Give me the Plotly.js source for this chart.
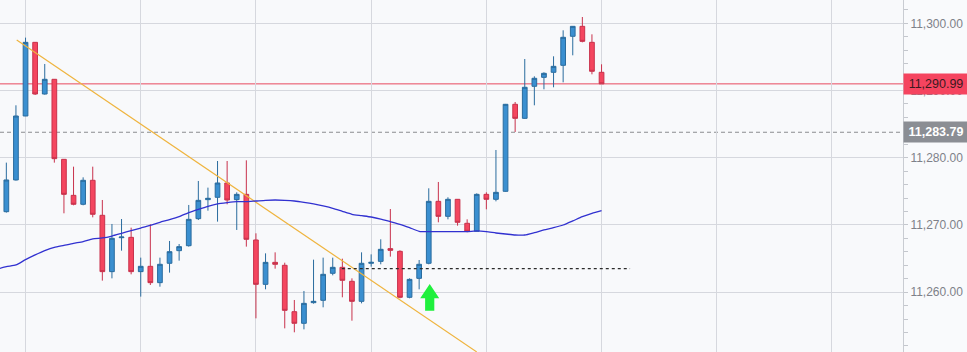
<!DOCTYPE html>
<html>
<head>
<meta charset="utf-8">
<script src="https://cdn.plot.ly/plotly-3.0.1.min.js"></script>
<style>
  html, body { margin: 0; padding: 0; background: #f9fafc; }
  #chart { width: 967px; height: 352px; }
</style>
</head>
<body>
<div id="chart"></div>
<script>
// ---- Data ----
const openVals = [
  11271.97, 11276.69, 11286.21, 11297.17, 11289.48, 11291.67, 11279.76, 11274.40, 11273.07, 11276.64,
  11271.43, 11263.05, 11268.10, 11268.15, 11263.05, 11263.84, 11261.41, 11264.29, 11266.17, 11266.91,
  11270.93, 11273.76, 11274.11, 11276.24, 11273.76, 11274.55, 11267.76, 11261.16, 11264.43, 11263.99,
  11257.09, 11255.36, 11258.43, 11258.78, 11262.80, 11263.69, 11261.61, 11258.63, 11264.29, 11264.58,
  11266.47, 11266.07, 11259.23, 11262.05, 11264.29, 11273.51, 11271.28, 11273.81, 11270.24, 11269.05,
  11274.55, 11273.81, 11275.00, 11287.95, 11285.86, 11290.63, 11291.96, 11292.71, 11293.75, 11298.07,
  11299.55, 11297.17, 11292.71
];
const highVals = [
  11279.27, 11287.80, 11297.87, 11297.20, 11293.95, 11291.70, 11279.80, 11278.67, 11277.08, 11278.67,
  11273.71, 11270.14, 11270.88, 11269.59, 11265.13, 11270.09, 11265.13, 11267.61, 11267.16, 11272.97,
  11276.54, 11275.55, 11279.51, 11279.51, 11274.85, 11279.61, 11268.75, 11265.77, 11265.92, 11264.38,
  11258.83, 11260.17, 11264.83, 11265.13, 11265.13, 11264.98, 11262.05, 11265.92, 11265.62, 11267.86,
  11272.37, 11266.22, 11262.05, 11264.78, 11275.45, 11276.39, 11274.11, 11273.85, 11270.83, 11274.70,
  11274.85, 11281.15, 11288.00, 11288.29, 11294.69, 11292.11, 11292.71, 11295.09, 11298.96, 11299.60,
  11300.94, 11298.36, 11293.90
];
const lowVals = [
  11271.83, 11276.60, 11286.20, 11289.34, 11289.39, 11279.27, 11271.73, 11272.92, 11272.92, 11271.13,
  11261.71, 11262.05, 11266.17, 11262.65, 11259.33, 11261.06, 11260.81, 11262.90, 11264.68, 11266.77,
  11270.73, 11272.12, 11270.49, 11273.07, 11269.25, 11266.77, 11256.10, 11260.42, 11263.49, 11254.61,
  11254.02, 11254.46, 11258.28, 11257.74, 11262.50, 11259.23, 11255.75, 11258.33, 11263.79, 11264.14,
  11265.28, 11259.08, 11259.08, 11260.42, 11264.14, 11270.39, 11270.83, 11269.89, 11268.90, 11269.00,
  11272.32, 11273.51, 11274.95, 11283.83, 11285.80, 11287.80, 11290.18, 11290.48, 11291.22, 11295.24,
  11297.17, 11292.41, 11290.95
];
const closeVals = [
  11276.69, 11286.21, 11297.17, 11289.48, 11291.67, 11279.86, 11274.55, 11273.07, 11276.64, 11271.58,
  11263.05, 11268.01, 11268.20, 11263.05, 11263.84, 11261.41, 11264.14, 11266.02, 11266.77, 11270.83,
  11273.66, 11273.96, 11276.24, 11273.71, 11274.55, 11267.86, 11261.16, 11264.43, 11264.14, 11257.29,
  11255.36, 11258.33, 11258.63, 11262.65, 11263.69, 11261.76, 11258.63, 11264.29, 11264.43, 11266.37,
  11266.22, 11259.23, 11261.90, 11264.14, 11273.51, 11271.28, 11273.81, 11270.39, 11269.05, 11274.55,
  11273.81, 11274.85, 11287.95, 11285.86, 11290.48, 11291.82, 11292.56, 11293.60, 11297.92, 11299.55,
  11297.32, 11292.86, 11290.99
];
// Moving average, one value per bar starting one bar before the first candle
const maStartIndex = -1;
const maVals = [
  11263.40,
  11263.79, 11264.04, 11264.83, 11265.53, 11266.17, 11266.67, 11266.96, 11267.26, 11267.51, 11267.91,
  11268.06, 11268.35, 11268.75, 11269.15, 11269.54, 11269.94, 11270.39, 11270.78, 11271.23, 11271.83,
  11272.32, 11272.77, 11273.12, 11273.31, 11273.46, 11273.46, 11273.56, 11273.66, 11273.71, 11273.66,
  11273.56, 11273.36, 11273.12, 11272.82, 11272.47, 11272.02, 11271.58, 11271.38, 11271.18, 11270.88,
  11270.49, 11270.09, 11269.59, 11269.05, 11269.00, 11269.00, 11269.00, 11269.00, 11269.00, 11269.10,
  11269.00, 11268.80, 11268.65, 11268.50, 11268.50, 11268.85, 11269.25, 11269.59, 11269.99, 11270.59,
  11271.23, 11271.73, 11272.12
];
// Trend line (two anchor points: bar index, price)
const trendIdx = [1.08, 49.0];
const trendPrice = [11297.5, 11251.1];
// Support level (dotted) : start/end bar index and price
const supportIdx = [34.94, 64.97];
const supportPrice = 11263.5;
// Horizontal reference prices
const lastPrice = 11290.99;
const refPrice = 11283.79;
const lastPriceLabel = "11,290.99";
const refPriceLabel = "11,283.79";
// Buy signal arrow (bar index, price at arrow base)
const signalIdx = [44.1];
const signalPrice = [11257.23];

// ---- Build ----
const barIdx = openVals.map((_, i) => i);
const maIdx = maVals.map((_, i) => i + maStartIndex);

const candle = {
  type: 'candlestick',
  x: barIdx, open: openVals, high: highVals, low: lowVals, close: closeVals,
  increasing: { line: { color: '#2a6c9e', width: 1 }, fillcolor: '#3a8fd0' },
  decreasing: { line: { color: '#c8324c', width: 1 }, fillcolor: '#f4465f' },
  whiskerwidth: 0,
  hoverinfo: 'skip',
  showlegend: false
};
const ma = {
  type: 'scatter', mode: 'lines', x: maIdx, y: maVals,
  line: { color: '#3131d0', width: 1.3, shape: 'spline', smoothing: 0.6 },
  hoverinfo: 'skip', showlegend: false
};
const trend = {
  type: 'scatter', mode: 'lines', x: trendIdx, y: trendPrice,
  line: { color: '#efb43e', width: 1.2 },
  hoverinfo: 'skip', showlegend: false, cliponaxis: true
};
const support = {
  type: 'scatter', mode: 'lines', x: supportIdx, y: [supportPrice, supportPrice],
  line: { color: '#2b2b2b', width: 1.3, dash: '3px,3px' },
  hoverinfo: 'skip', showlegend: false
};

const shapes = [
  { type: 'line', xref: 'paper', x0: 0, x1: 1, yref: 'y', y0: lastPrice, y1: lastPrice,
    line: { color: '#e8485e', width: 1 }, layer: 'below' },
  { type: 'line', xref: 'paper', x0: 0, x1: 1, yref: 'y', y0: refPrice, y1: refPrice,
    line: { color: '#8a8c90', width: 1, dash: '4px,3px' }, layer: 'below' },
  { type: 'path', xref: 'x', yref: 'y', xsizemode: 'pixel', ysizemode: 'pixel',
    xanchor: signalIdx[0], yanchor: signalPrice[0],
    path: 'M -4.6 0 L 4.6 0 L 4.6 12.4 L 9.5 12.4 L 0 26.7 L -9.5 12.4 L -4.6 12.4 Z',
    fillcolor: '#1ff03d', line: { width: 0 } }
];

const annotations = [
  { xref: 'paper', x: 1, xanchor: 'left', yref: 'y', y: lastPrice, yanchor: 'middle',
    text: lastPriceLabel, showarrow: false, bgcolor: '#f5445f', width: 62, height: 18,
    borderpad: 1, font: { family: 'Liberation Sans, Arial, sans-serif', size: 12.5, color: '#3a1a20' } },
  { xref: 'paper', x: 1, xanchor: 'left', yref: 'y', y: refPrice, yanchor: 'middle',
    text: '<b>' + refPriceLabel + '</b>', showarrow: false, bgcolor: '#8b8e94', width: 62, height: 18,
    borderpad: 1, font: { family: 'Liberation Sans, Arial, sans-serif', size: 12.5, color: '#ffffff' } }
];

const layout = {
  width: 967, height: 352,
  margin: { l: 0, r: 64, t: 0, b: 0, pad: 0 },
  paper_bgcolor: '#f9fafc', plot_bgcolor: '#f8f9fb',
  showlegend: false,
  hovermode: false,
  xaxis: {
    type: 'linear', range: [-0.66, 93.4],
    rangeslider: { visible: false },
    showticklabels: false, ticks: '',
    tick0: 2, dtick: 12,
    showgrid: true, gridcolor: '#d6d8de', gridwidth: 1,
    zeroline: false, showline: false, fixedrange: true
  },
  yaxis: {
    side: 'right', range: [11251.09, 11303.47],
    tick0: 11250, dtick: 10, tickformat: ',.2f',
    ticks: 'outside', ticklen: 4, tickcolor: '#c4c7cd',
    minor: { dtick: 2, ticks: 'outside', ticklen: 4, tickcolor: '#c4c7cd', showgrid: false },
    showgrid: true, gridcolor: '#d6d8de', gridwidth: 1,
    showline: true, linecolor: '#c9ccd2', linewidth: 1,
    zeroline: false,
    tickfont: { family: 'Liberation Sans, Arial, sans-serif', size: 12, color: '#7e8189' },
    fixedrange: true
  },
  shapes: shapes,
  annotations: annotations
};

Plotly.newPlot('chart', [trend, ma, support, candle], layout, { staticPlot: true, displayModeBar: false });
</script>
</body>
</html>
